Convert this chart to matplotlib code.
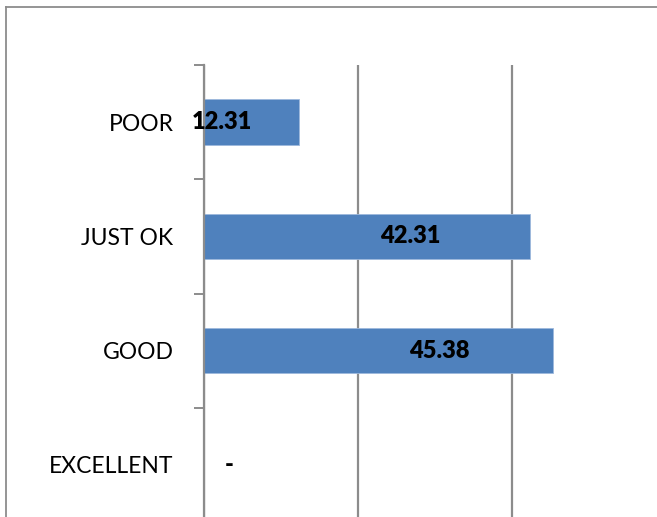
import matplotlib
matplotlib.use("Agg")
import matplotlib.pyplot as plt
from matplotlib.lines import Line2D

categories = ["POOR", "JUST OK", "GOOD", "EXCELLENT"]
values = [12.31, 42.31, 45.38, 0]
value_labels = ["12.31", "42.31", "45.38", "-"]
# where Excel left the data labels (in axis units)
label_x = [2.3, 26.8, 30.5, 3.3]

plt.rcParams['font.family'] = ['Lato', 'DejaVu Sans']

fig = plt.figure(figsize=(6.57, 5.17), dpi=100)
W, H = 657.0, 517.0

# chart area border (cut off at right and bottom)
fig.add_artist(Line2D([6 / W, 6 / W], [0, 1 - 7 / H], color="#8c8c8c", lw=1.3))
fig.add_artist(Line2D([6 / W, 1], [1 - 7 / H, 1 - 7 / H], color="#8c8c8c", lw=1.3))

ax = fig.add_axes([204 / W, (H - 522) / H, 462 / W, 457 / H])
y = list(range(len(categories)))
ax.barh(y, values, height=0.4, color="#4f81bd", edgecolor="#9db8dc", linewidth=0.6, zorder=3)

ax.set_xlim(0, 60)
ax.set_ylim(3.5, -0.5)
ax.set_xticks([0, 20, 40, 60])
ax.xaxis.grid(True, color="#8c8c8c", linewidth=1.6, zorder=0)
ax.tick_params(axis="x", length=0, labelbottom=False)

ax.set_yticks(y)
ax.set_yticklabels(categories, fontsize=16.5)
ax.tick_params(axis="y", which="major", length=0, pad=22)
ax.set_yticks([-0.5, 0.5, 1.5, 2.5], minor=True)
ax.tick_params(axis="y", which="minor", length=7, width=1.4, color="#8c8c8c")

for s in ["top", "right", "bottom"]:
    ax.spines[s].set_visible(False)
ax.spines["left"].set_color("#8c8c8c")
ax.spines["left"].set_linewidth(1.6)
ax.spines["left"].set_zorder(4)

for i, (lx, txt) in enumerate(zip(label_x, value_labels)):
    ax.text(lx, i, txt, ha="center", va="center", fontsize=17,
            fontweight="heavy", color="black", zorder=5)

fig.savefig("out.png", dpi=100)
